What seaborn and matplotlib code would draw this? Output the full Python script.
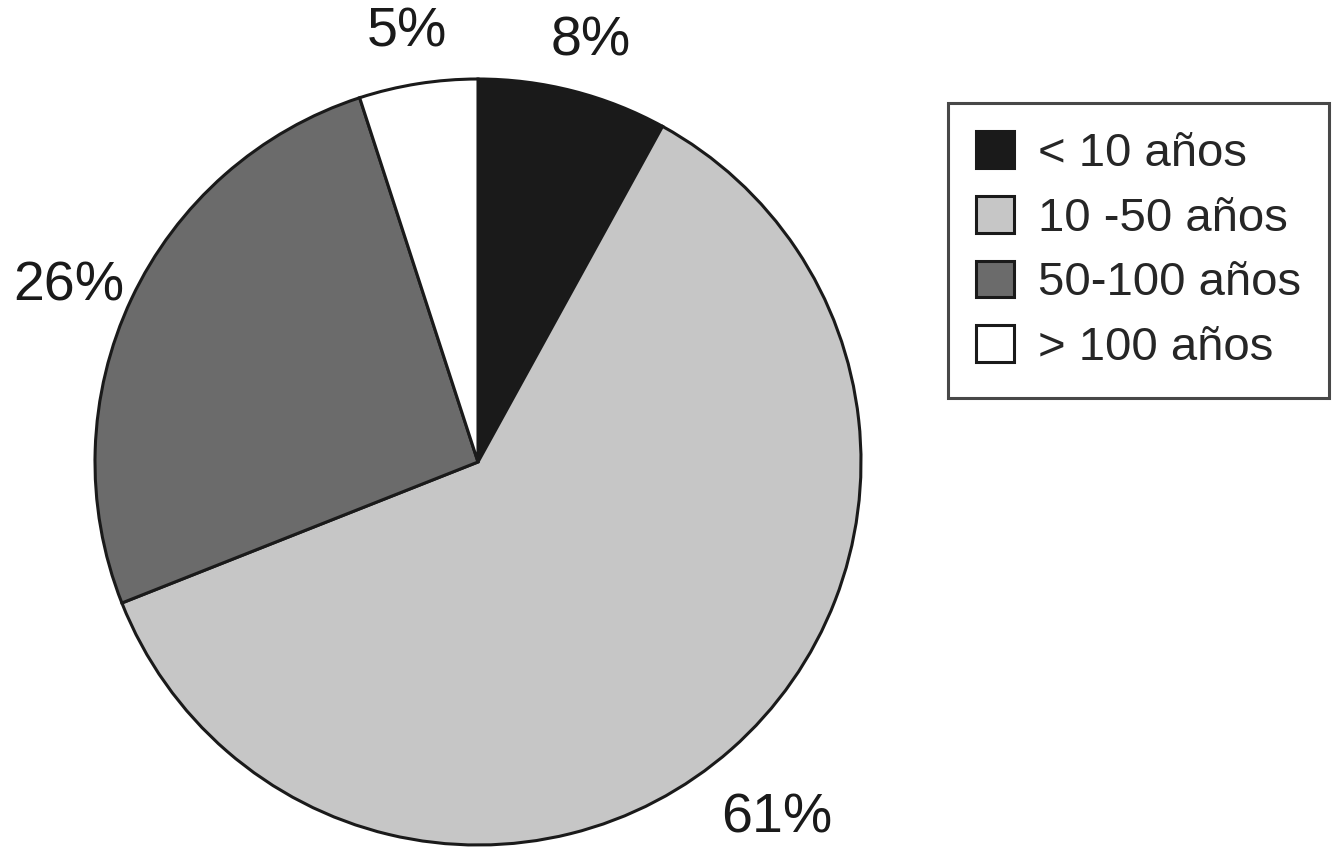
import matplotlib
matplotlib.use("Agg")
import matplotlib.pyplot as plt
import matplotlib.transforms as mtransforms
import seaborn as sns

sns.set_theme(style="white")
plt.rcParams['font.family'] = ['Liberation Sans', 'DejaVu Sans']

categories = ["< 10 años", "10 -50 años", "50-100 años", "> 100 años"]
values = [8, 61, 26, 5]
colors = ["#1a1a1a", "#c6c6c6", "#6b6b6b", "#ffffff"]

fig = plt.figure(figsize=(13.33, 8.56), dpi=100)
W, H = 1333, 856
cx, cy, r = 478, 856 - 462, 383
ax = fig.add_axes([(cx - r) / W, (cy - r) / H, 2 * r / W, 2 * r / H])

wedges, texts, autotexts = ax.pie(
    values, colors=colors, startangle=90, counterclock=False,
    autopct=lambda p: f"{p:.0f}%", pctdistance=1.18, radius=1,
    wedgeprops=dict(edgecolor="#1a1a1a", linewidth=2.2),
    textprops=dict(fontsize=40, color="#1a1a1a"),
)
shift = mtransforms.ScaledTranslation(0, -0.17, fig.dpi_scale_trans)
for t in autotexts:
    t.set_transform(t.get_transform() + shift)
ax.set_xlim(-1, 1)
ax.set_ylim(-1, 1)
ax.set_aspect("auto")
ax.axis("off")

leg = fig.legend(
    wedges, categories, loc="upper left",
    bbox_to_anchor=(948 / W, 1 - 103 / H), fontsize=34,
    frameon=True, fancybox=False, edgecolor="#1a1a1a",
    handlelength=0.8, handleheight=0.82, labelspacing=0.42,
    borderpad=0.6, handletextpad=0.5, borderaxespad=0,
)
leg.get_frame().set_linewidth(2.2)

fig.savefig("out.png", dpi=100)
